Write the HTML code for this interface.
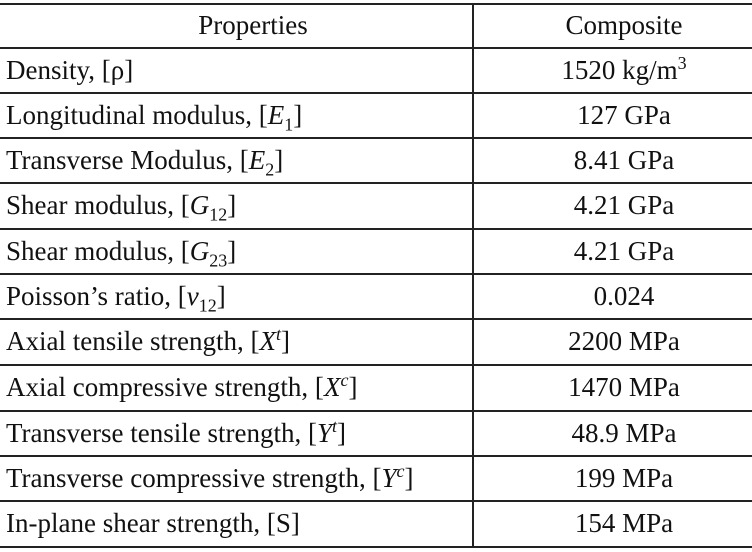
<!DOCTYPE html>
<html><head><style>
html,body{margin:0;padding:0;background:#fff;}
body{width:752px;height:552px;position:relative;overflow:hidden;font-family:"Liberation Serif",serif;font-size:27px;color:#111;}
.hl{position:absolute;left:0;width:752px;height:2px;background:#222;}
.vl{position:absolute;left:472px;top:3px;width:1.5px;height:545px;background:#222;}
.r{position:absolute;left:0;width:752px;height:45px;line-height:45px;}
.a{position:absolute;left:6px;white-space:nowrap;}
.a.c{left:0;width:506px;text-align:center;}
.b{position:absolute;left:496px;width:256px;text-align:center;white-space:nowrap;}
sub,sup{font-size:18px;line-height:0;}
i{font-style:italic;}
</style></head><body>
<div class="hl" style="top:3px"></div>
<div class="hl" style="top:47px"></div>
<div class="hl" style="top:92px"></div>
<div class="hl" style="top:137px"></div>
<div class="hl" style="top:182px"></div>
<div class="hl" style="top:228px"></div>
<div class="hl" style="top:273px"></div>
<div class="hl" style="top:318px"></div>
<div class="hl" style="top:364px"></div>
<div class="hl" style="top:410px"></div>
<div class="hl" style="top:455px"></div>
<div class="hl" style="top:500px"></div>
<div class="hl" style="top:546px"></div>
<div class="vl"></div>
<div class="r" style="top:3px"><span class="a c">Properties</span><span class="b">Composite</span></div>
<div class="r" style="top:48px"><span class="a">Density, [ρ]</span><span class="b">1520 kg/m<sup>3</sup></span></div>
<div class="r" style="top:93px"><span class="a">Longitudinal modulus, [<i>E</i><sub>1</sub>]</span><span class="b">127 GPa</span></div>
<div class="r" style="top:138px"><span class="a">Transverse Modulus, [<i>E</i><sub>2</sub>]</span><span class="b">8.41 GPa</span></div>
<div class="r" style="top:183px"><span class="a">Shear modulus, [<i>G</i><sub>12</sub>]</span><span class="b">4.21 GPa</span></div>
<div class="r" style="top:229px"><span class="a">Shear modulus, [<i>G</i><sub>23</sub>]</span><span class="b">4.21 GPa</span></div>
<div class="r" style="top:274px"><span class="a">Poisson’s ratio, [<i>ν</i><sub>12</sub>]</span><span class="b">0.024</span></div>
<div class="r" style="top:319px"><span class="a">Axial tensile strength, [<i>X</i><sup><i>t</i></sup>]</span><span class="b">2200 MPa</span></div>
<div class="r" style="top:365px"><span class="a">Axial compressive strength, [<i>X</i><sup><i>c</i></sup>]</span><span class="b">1470 MPa</span></div>
<div class="r" style="top:411px"><span class="a">Transverse tensile strength, [<i>Y</i><sup><i>t</i></sup>]</span><span class="b">48.9 MPa</span></div>
<div class="r" style="top:456px"><span class="a">Transverse compressive strength, [<i>Y</i><sup><i>c</i></sup>]</span><span class="b">199 MPa</span></div>
<div class="r" style="top:501px"><span class="a">In-plane shear strength, [S]</span><span class="b">154 MPa</span></div>
</body></html>
